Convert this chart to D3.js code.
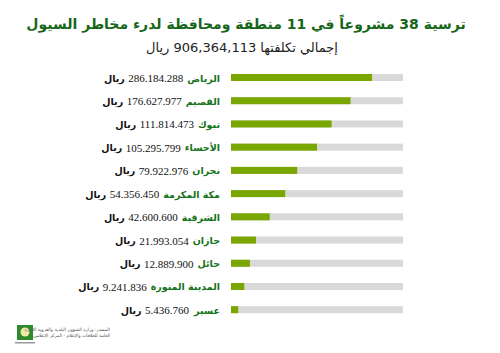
<!DOCTYPE html>
<html>
<head>
<meta charset="utf-8">
<script src="https://cdn.jsdelivr.net/npm/d3@7"></script>
<style>
  body { margin: 0; background: #fff; }
  svg { display: block; }
</style>
</head>
<body>
<svg id="graph"></svg>
<script>
// regions, as printed, top to bottom
let regions = ["الرياض","القصيم","تبوك","الأحساء","نجران","مكة المكرمة","الشرقية","جازان","حائل","المدينة المنورة","عسير"]
let costs = ["286.184.288","176.627.977","111.814.473","105.295.799","79.922.976","54.356.450","42.600.600","21.993.054","12.889.900","9.241.836","5.436.760"]
// bar length as drawn in the picture (% of the grey track), not proportional to cost
let barShare = [82,69.5,58.5,50,38.5,31.5,22.5,14.5,11,7.7,4.2]

let titleText = "ترسية 38 مشروعاً في 11 منطقة ومحافظة لدرء مخاطر السيول"
let subText = "إجمالي تكلفتها 906,364,113 ريال"
let sourceLines = ["المصدر: وزارة الشؤون البلدية والقروية الإدارة","العامة للعلاقات والإعلام - المركز الإعلامي"]

let w = 500
let h = 353

let trackx0 = 231
let trackx1 = 403
let toprow = 77.5
let botrow = 309.7
let barh = 7
let labelx = 220

let data = regions.map((r,i)=>({region:r,cost:costs[i],share:barShare[i]}))

let graph = d3.select("#graph")
    .attr("width",w)
    .attr("height",h)

graph.append("text")
    .text(titleText)
    .attr("x",246)
    .attr("y",29)
    .attr("direction","rtl")
    .attr("text-anchor","middle")
    .style("font-family","'DejaVu Sans', sans-serif")
    .style("font-weight","bold")
    .style("font-size","14px")
    .style("fill","#16661a")

graph.append("text")
    .text(subText)
    .attr("x",242)
    .attr("y",52)
    .attr("direction","rtl")
    .attr("text-anchor","middle")
    .style("font-family","'DejaVu Sans', sans-serif")
    .style("font-size","13px")
    .style("fill","#222")

let xscale = d3.scaleLinear()
    .domain([0,100])
    .range([trackx0,trackx1])

let yscale = d3.scalePoint()
    .domain(regions)
    .range([toprow,botrow])

let rows = graph.append("g")
    .selectAll("g")
    .data(data)
    .enter().append("g")
    .attr("transform",d=>`translate(0,${yscale(d.region)})`)

rows.append("rect")
    .attr("x",xscale(0))
    .attr("y",-barh/2)
    .attr("width",xscale(100)-xscale(0))
    .attr("height",barh)
    .style("fill","#d9d9d9")

rows.append("rect")
    .attr("x",xscale(0))
    .attr("y",-barh/2)
    .attr("width",d=>xscale(d.share)-xscale(0))
    .attr("height",barh)
    .style("fill","#7aa600")

rows.each(function(d){
    let g = d3.select(this)
    let name = g.append("text")
        .text(d.region)
        .attr("x",labelx)
        .attr("y",4)
        .attr("text-anchor","end")
        .style("font-family","'DejaVu Sans', sans-serif")
        .style("font-weight","bold")
        .style("font-size","9.5px")
        .style("fill","#15731a")
    let nx = labelx - name.node().getBBox().width - 4
    let num = g.append("text")
        .text(d.cost)
        .attr("x",nx)
        .attr("y",4.5)
        .attr("text-anchor","end")
        .style("font-family","'Liberation Serif', serif")
        .style("font-size","11px")
        .style("fill","#111")
    let rx = nx - num.node().getBBox().width - 3
    g.append("text")
        .text("ريال")
        .attr("x",rx)
        .attr("y",4)
        .attr("text-anchor","end")
        .style("font-family","'DejaVu Sans', sans-serif")
        .style("font-weight","bold")
        .style("font-size","9.5px")
        .style("fill","#111")
})

// source logo, bottom left
let logo = graph.append("g").attr("transform","translate(17,325)")
logo.append("rect")
    .attr("width",16).attr("height",15)
    .style("fill","#2f8a2c")
logo.append("circle")
    .attr("cx",8).attr("cy",7).attr("r",4.5)
    .style("fill","#f2e9a8")
logo.append("rect")
    .attr("x",-2).attr("y",17).attr("width",20).attr("height",1.5)
    .style("fill","#999")

graph.append("g")
    .selectAll("text")
    .data(sourceLines)
    .enter().append("text")
    .text(d=>d)
    .attr("x",110)
    .attr("y",(d,i)=>331+i*6)
    .attr("direction","rtl")
    .attr("text-anchor","start")
    .style("font-family","'DejaVu Sans', sans-serif")
    .style("font-size","4.5px")
    .style("fill","#555")
</script>
</body>
</html>
